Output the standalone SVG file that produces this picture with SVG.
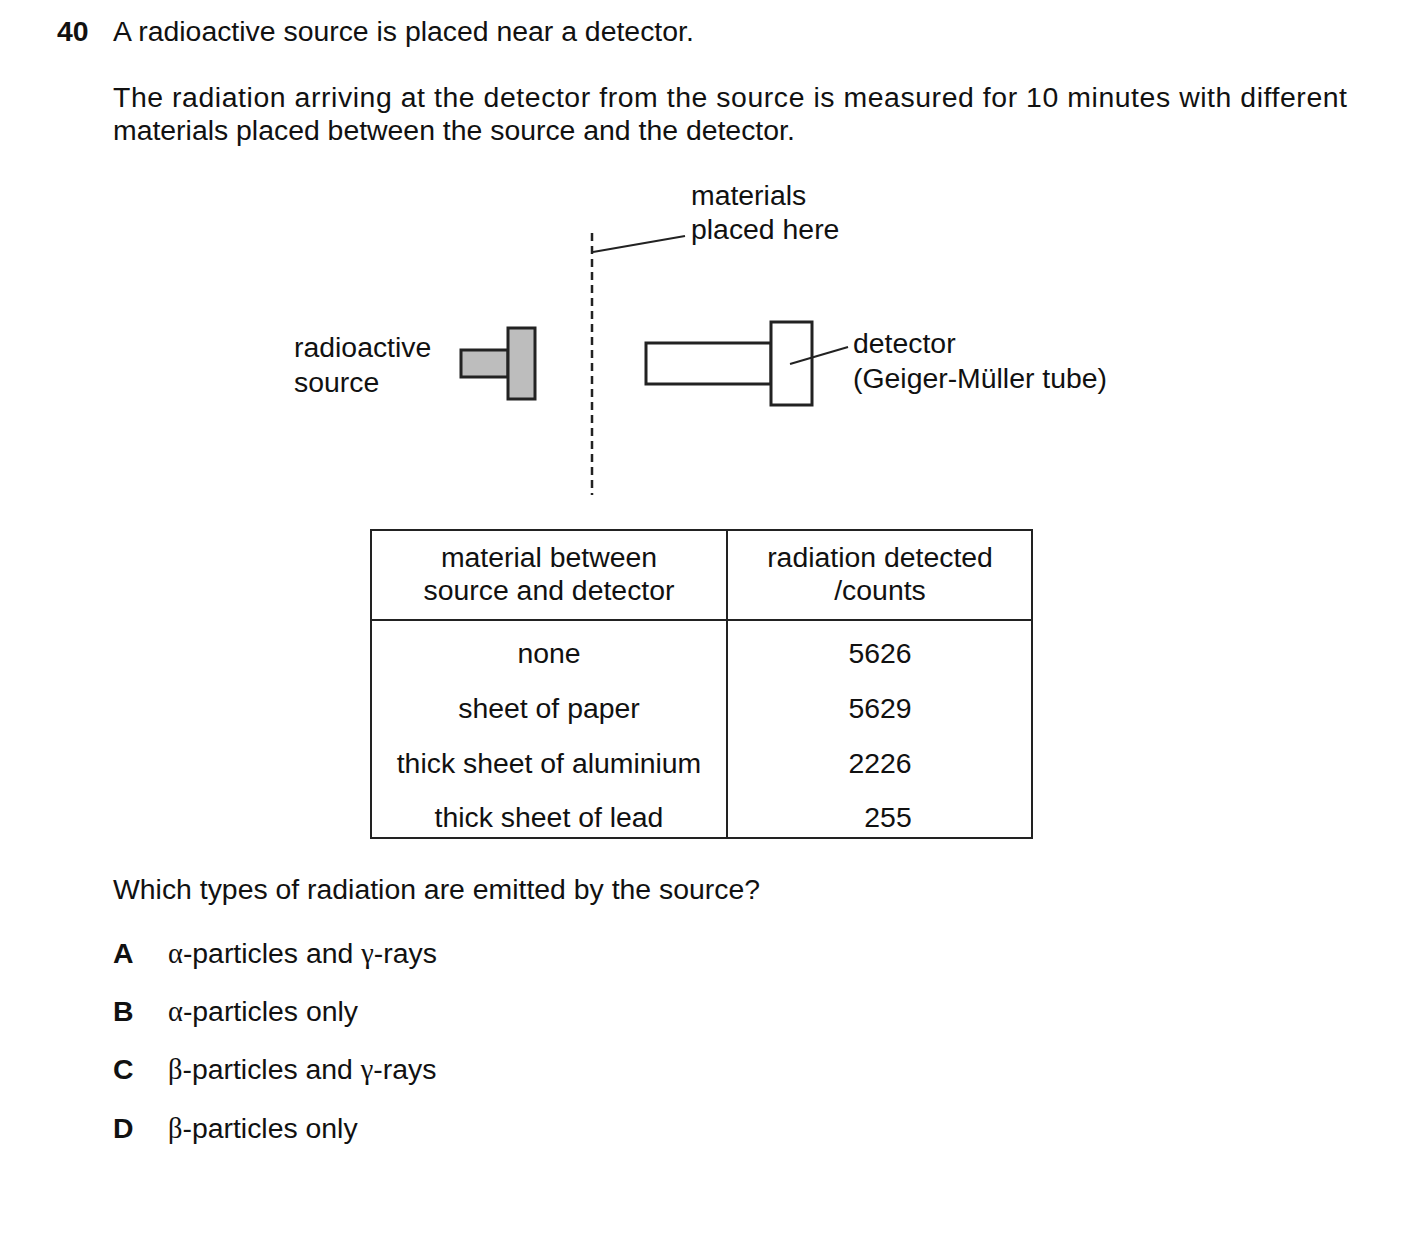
<svg xmlns="http://www.w3.org/2000/svg" width="1403" height="1237" viewBox="0 0 1403 1237">
<style>
text{font-family:"Liberation Sans",Arial,sans-serif;font-size:28.4px;fill:#111}
.c{text-anchor:middle}
.b{font-weight:bold}
.s{font-family:"Liberation Serif","Times New Roman",serif}
.ln{stroke:#222;stroke-width:2;fill:none}
</style>
<rect width="1403" height="1237" fill="#fff"/>
<text x="57" y="41" class="b">40</text>
<text x="113" y="41">A radioactive source is placed near a detector.</text>
<text x="113" y="107" textLength="1234" lengthAdjust="spacing">The radiation arriving at the detector from the source is measured for 10 minutes with different</text>
<text x="113" y="140">materials placed between the source and the detector.</text>
<g id="labels">
<text x="691" y="205">materials</text>
<text x="691" y="239">placed here</text>
<text x="294" y="357">radioactive</text>
<text x="294" y="392">source</text>
<text x="853" y="353">detector</text>
<text x="853" y="388">(Geiger-Müller tube)</text>
</g>
<g id="dashed-line"><line x1="592" y1="233" x2="592" y2="495" stroke="#222" stroke-width="2.5" stroke-dasharray="8,5"/></g>
<g id="source">
<rect x="461" y="350" width="47" height="27" fill="#bdbdbd" stroke="#222" stroke-width="3"/>
<rect x="508" y="328" width="27" height="71" fill="#bdbdbd" stroke="#222" stroke-width="3"/>
</g>
<g id="detector">
<rect x="646" y="343" width="125" height="41" fill="#fff" stroke="#222" stroke-width="3"/>
<rect x="771" y="322" width="41" height="83" fill="#fff" stroke="#222" stroke-width="3"/>
</g>
<g id="connectors">
<line x1="593" y1="252" x2="685" y2="236" class="ln" stroke-width="1.5"/>
<line x1="790" y1="364" x2="848" y2="347" class="ln" stroke-width="1.5"/>
</g>
<g id="table">
<rect x="371" y="530" width="661" height="308" class="ln"/>
<line x1="727" y1="530" x2="727" y2="838" class="ln"/>
<line x1="371" y1="620" x2="1032" y2="620" class="ln"/>
<text x="549" y="567" class="c">material between</text>
<text x="549" y="600" class="c">source and detector</text>
<text x="880" y="567" class="c">radiation detected</text>
<text x="880" y="600" class="c">/counts</text>
<text x="549" y="663" class="c">none</text>
<text x="549" y="718" class="c">sheet of paper</text>
<text x="549" y="773" class="c">thick sheet of aluminium</text>
<text x="549" y="827" class="c">thick sheet of lead</text>
<text x="880" y="663" class="c">5626</text>
<text x="880" y="718" class="c">5629</text>
<text x="880" y="773" class="c">2226</text>
<text x="888" y="827" class="c">255</text>
</g>
<text x="113" y="899">Which types of radiation are emitted by the source?</text>
<g id="options">
<text x="113" y="963" class="b">A</text><text x="168" y="963"><tspan class="s">α</tspan>-particles and <tspan class="s">γ</tspan>-rays</text>
<text x="113" y="1021" class="b">B</text><text x="168" y="1021"><tspan class="s">α</tspan>-particles only</text>
<text x="113" y="1079" class="b">C</text><text x="168" y="1079"><tspan class="s">β</tspan>-particles and <tspan class="s">γ</tspan>-rays</text>
<text x="113" y="1138" class="b">D</text><text x="168" y="1138"><tspan class="s">β</tspan>-particles only</text>
</g>
</svg>
